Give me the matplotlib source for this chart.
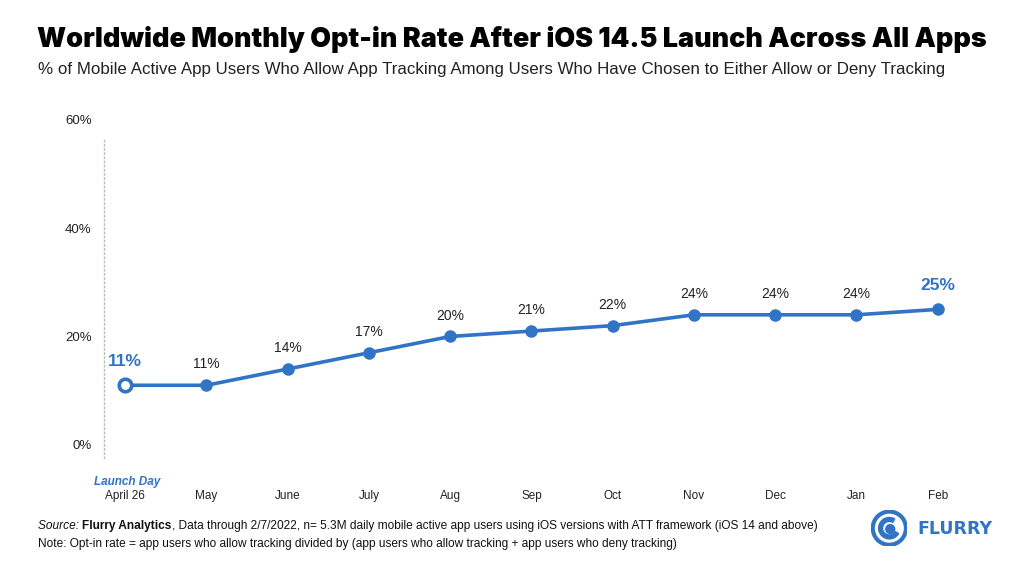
import numpy as np
import matplotlib
matplotlib.use('Agg')
import matplotlib.pyplot as plt
from matplotlib.patches import Circle, Wedge

months = ['April 26', 'May', 'June', 'July', 'Aug', 'Sep', 'Oct', 'Nov', 'Dec', 'Jan', 'Feb']
opt_in = [11, 11, 14, 17, 20, 21, 22, 24, 24, 24, 25]
y_ticks = [0, 20, 40, 60]

blue = '#3174C6'
plt.rcParams['font.family'] = ['Liberation Sans', 'DejaVu Sans']

fig = plt.figure(figsize=(10.24, 5.76), dpi=100)
ax = fig.add_axes([0.1016, 0.205, 0.830, 0.592])

x = np.arange(len(months))
ax.plot(x, opt_in, color=blue, lw=2.6, marker='o', ms=8, zorder=3)
ax.plot(x[:1], opt_in[:1], marker='o', ms=9, mfc='white', mec=blue, mew=2.6, ls='none', zorder=4)

for i, v in enumerate(opt_in):
    if i == 0 or i == len(opt_in) - 1:
        ax.annotate(f'{v}%', (i, v), xytext=(0, 12), textcoords='offset points',
                    ha='center', va='bottom', fontsize=12.5, fontweight='bold', color=blue)
    else:
        ax.annotate(f'{v}%', (i, v), xytext=(0, 10), textcoords='offset points',
                    ha='center', va='bottom', fontsize=10, color='#222222')

ax.set_xlim(-0.26, 10.2)
ax.set_ylim(-2.4, 60.5)
ax.set_xticks(x)
ax.set_xticklabels(months, fontsize=8.5, color='#222222')
ax.set_yticks(y_ticks)
ax.set_yticklabels([f'{t}%' for t in y_ticks], fontsize=9.5, color='#222222')
ax.tick_params(axis='both', length=0)
ax.tick_params(axis='x', pad=23)
ax.tick_params(axis='y', pad=9)
for s in ['top', 'right', 'bottom']:
    ax.spines[s].set_visible(False)
ax.spines['left'].set_bounds(-2.4, 56.3)
ax.spines['left'].set_linestyle((0, (1, 2)))
ax.spines['left'].set_color('#bbbbbb')
ax.spines['left'].set_linewidth(1)
ax.text(0.03, -0.07, 'Launch Day', transform=ax.get_xaxis_transform(), ha='center', va='center',
        fontsize=8.5, fontstyle='italic', fontweight='bold', color=blue)

fig.text(0.5, 0.932, 'Worldwide Monthly Opt-in Rate After iOS 14.5 Launch Across All Apps',
         ha='center', va='center', fontsize=19.4, fontweight=900, color='black',
         family=['Inter', 'Liberation Sans'])
fig.text(0.037, 0.880, '% of Mobile Active App Users Who Allow App Tracking Among Users Who Have Chosen to Either Allow or Deny Tracking',
         ha='left', va='center', fontsize=12.2, color='#222222')

# footer with mixed styles
r = fig.canvas.get_renderer()
xpos = 0.037
for txt, kw in [('Source: ', dict(fontstyle='italic')), ('Flurry Analytics', dict(fontweight='bold')),
                (', Data through 2/7/2022, n= 5.3M daily mobile active app users using iOS versions with ATT framework (iOS 14 and above)', {})]:
    t = fig.text(xpos, 0.087, txt, ha='left', va='center', fontsize=8.55, color='#111111', **kw)
    bb = t.get_window_extent(renderer=r)
    xpos += bb.width / fig.bbox.width
fig.text(0.037, 0.055, 'Note: Opt-in rate = app users who allow tracking divided by (app users who allow tracking + app users who deny tracking)',
         ha='left', va='center', fontsize=8.55, color='#111111')

# logo
lax = fig.add_axes([0.851, 0.052, 0.035, 0.062])
lax.set_aspect('equal')
lax.axis('off')
lax.set_xlim(-1, 1)
lax.set_ylim(-1, 1)
lax.add_patch(Circle((0, 0), 0.93, fill=False, ec=blue, lw=3))
lax.add_patch(Wedge((0, 0), 0.6, 60, 330, width=0.22, color=blue))
lax.add_patch(Circle((0.05, -0.05), 0.25, color=blue))
fig.text(0.896, 0.081, 'FLURRY', ha='left', va='center', fontsize=12.5, fontweight='heavy',
         color=blue, family=['DejaVu Sans'])

fig.savefig('out.png', dpi=100)
